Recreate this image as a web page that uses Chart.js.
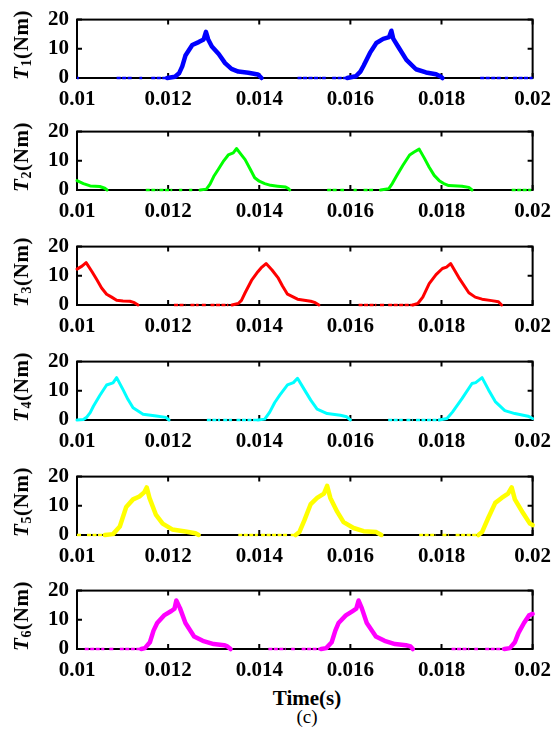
<!DOCTYPE html>
<html lang="en">
  <head>
    <meta charset="UTF-8" />
    <title>Phase torque T1-T6</title>
    <script src="https://cdn.jsdelivr.net/npm/chart.js@4"></script>
    <style>
      body,
      html {
        margin: 0;
        background: #fff;
        font-family: "Liberation Serif", "Times New Roman", serif;
      }
      #wrap {
        position: relative;
        width: 560px;
        height: 740px;
      }
      .panel {
        position: absolute;
        left: 0;
        width: 560px;
        height: 113px;
      }
      .ylab {
        position: absolute;
        left: 24px;
        transform: translate(-50%, -50%) rotate(-90deg);
        white-space: nowrap;
        font-weight: bold;
        font-size: 21px;
        line-height: 21px;
        letter-spacing: 0.6px;
        color: #000;
      }
      .ylab sub {
        font-size: 14px;
        vertical-align: -3px;
      }
      .xlab {
        position: absolute;
        left: 207px;
        width: 200px;
        text-align: center;
        color: #000;
      }
    </style>
  </head>
  <body>
    <div id="wrap">
      <div class="xlab" style="top: 686px; font-size: 21px; font-weight: bold; line-height: 24px">Time(s)</div>
      <div class="xlab" style="top: 706px; font-size: 19px; line-height: 22px">(c)</div>
    </div>
    <script>
      // axis ticks
      const xTickValues = [0.01, 0.012, 0.014, 0.016, 0.018, 0.02];
      const xTickLabels = ["0.01", "0.012", "0.014", "0.016", "0.018", "0.02"];
      const yTickValues = [0, 10, 20];
      const yTickLabels = ["0", "10", "20"];
      const phaseLabels = ["1", "2", "3", "4", "5", "6"];

      // T1 (null = break in the trace)
      const t1Time = [0.01198, 0.01215, 0.01224, 0.01231, 0.01238, 0.01253, 0.01267, 0.01278, 0.01283, 0.01288, 0.01296, 0.01311, 0.01325, 0.01339, 0.01354, 0.01376, 0.01397, 0.01405,
        0.015,
        0.01593, 0.01612, 0.01622, 0.01629, 0.01643, 0.01657, 0.01672, 0.01685, 0.0169, 0.01694, 0.01705, 0.01723, 0.01744, 0.01766, 0.01788, 0.01798, 0.01802];
      const t1Torque = [0, 0.4, 1.6, 4.0, 7.7, 11.3, 12.3, 13.2, 15.8, 13.2, 10.8, 8.2, 5.1, 3.1, 2.2, 1.8, 1.2, 0,
        null,
        0, 0.6, 2.2, 4.2, 8.6, 12.0, 13.4, 14.0, 16.2, 13.5, 10.7, 6.2, 3.0, 1.9, 1.3, 0.5, 0];
      const t1Zero = [[0.01, 0.01004], [0.01087, 0.01122], [0.01137, 0.01143], [0.01163, 0.01196], [0.01484, 0.01535], [0.01538, 0.01546], [0.0156, 0.01593], [0.01885, 0.01932], [0.01939, 0.01946], [0.01957, 0.02]];

      // T2
      const t2Time = [0.01, 0.01014, 0.01029, 0.0105, 0.01061, 0.01066,
        0.011,
        0.0127, 0.01284, 0.01292, 0.013, 0.01311, 0.01322, 0.01332, 0.01343, 0.0135, 0.0136, 0.01369, 0.0138, 0.0139, 0.014, 0.01412, 0.01425, 0.0144, 0.01458, 0.01464, 0.01467,
        0.0155,
        0.01666, 0.01684, 0.01692, 0.01701, 0.01715, 0.0173, 0.0174, 0.01751, 0.01762, 0.01773, 0.01784, 0.01795, 0.01805, 0.01816, 0.01845, 0.0186, 0.01867];
      const t2Torque = [3.2, 2.2, 1.4, 1.2, 0.6, 0,
        null,
        0, 0.3, 2.0, 4.6, 7.3, 10.0, 12.0, 12.7, 14.2, 12.2, 10.4, 7.2, 4.2, 3.0, 2.2, 1.6, 1.3, 1.0, 0.5, 0,
        null,
        0, 0.4, 2.2, 4.7, 8.4, 12.0, 13.0, 14.0, 11.0, 7.8, 5.0, 3.2, 2.2, 1.5, 1.3, 0.9, 0];
      const t2Zero = [[0.01151, 0.01177], [0.01181, 0.01209], [0.01224, 0.01231], [0.01246, 0.01253], [0.01549, 0.0157], [0.01578, 0.01586], [0.01607, 0.01614], [0.01629, 0.0165], [0.01954, 0.01997]];

      // T3
      const t3Time = [0.01, 0.01011, 0.0102, 0.01033, 0.01043, 0.01054, 0.01065, 0.01076, 0.01087, 0.01101, 0.01116, 0.01126, 0.01134,
        0.012,
        0.0134, 0.01354, 0.01361, 0.01369, 0.01383, 0.01397, 0.01404, 0.01415, 0.01428, 0.01441, 0.01451, 0.01462, 0.01484, 0.01513, 0.01523, 0.01531,
        0.016,
        0.01737, 0.01748, 0.01759, 0.01773, 0.01788, 0.01802, 0.01811, 0.0182, 0.01838, 0.0186, 0.01874, 0.01889, 0.0191, 0.01925, 0.01932];
      const t3Torque = [12.3, 13.3, 14.5, 11.4, 8.8, 5.8, 3.7, 2.7, 1.6, 1.4, 1.3, 0.8, 0,
        null,
        0, 0.5, 1.6, 4.2, 8.4, 11.4, 12.7, 14.2, 12.0, 9.4, 6.5, 3.7, 2.0, 1.3, 0.8, 0,
        null,
        0, 0.5, 2.7, 7.3, 10.4, 12.5, 13.0, 14.2, 9.4, 4.2, 2.7, 2.0, 1.5, 1.1, 0];
      const t3Zero = [[0.01213, 0.01238], [0.01249, 0.01267], [0.01274, 0.01285], [0.01293, 0.01332], [0.01618, 0.01657], [0.01665, 0.01675], [0.01683, 0.01737]];

      // T4
      const t4Time = [0.01, 0.01014, 0.01021, 0.01029, 0.01036, 0.0105, 0.01065, 0.01079, 0.01087, 0.01101, 0.01112, 0.01123, 0.01145, 0.01174, 0.01195, 0.01202,
        0.0125,
        0.01397, 0.01412, 0.01423, 0.01434, 0.01445, 0.01462, 0.01475, 0.01484, 0.01499, 0.01513, 0.01527, 0.01549, 0.01578, 0.01592, 0.016,
        0.0165,
        0.01795, 0.01812, 0.01824, 0.01845, 0.01867, 0.01875, 0.01889, 0.01903, 0.01918, 0.01939, 0.01961, 0.0199, 0.02];
      const t4Torque = [0, 0.2, 0.9, 2.5, 4.7, 8.4, 12.0, 12.7, 14.5, 10.4, 7.0, 4.2, 2.0, 1.4, 0.9, 0,
        null,
        0, 0.3, 2.7, 6.0, 8.5, 12.0, 12.8, 14.3, 10.4, 6.8, 3.7, 2.2, 1.6, 1.1, 0,
        null,
        0, 0.5, 2.7, 7.3, 12.5, 12.8, 14.5, 10.4, 6.3, 3.2, 2.2, 1.3, 0.5];
      const t4Zero = [[0.01285, 0.01314], [0.01321, 0.0134], [0.0135, 0.01397], [0.01683, 0.01715], [0.01723, 0.01737], [0.01744, 0.01795]];

      // T5
      const t5Time = [0.01061, 0.01079, 0.01094, 0.01108, 0.01123, 0.01137, 0.01148, 0.01153, 0.01159, 0.01173, 0.01188, 0.01209, 0.01238, 0.0126, 0.01267,
        0.013,
        0.0148, 0.01488, 0.01499, 0.01513, 0.01527, 0.01542, 0.01549, 0.01556, 0.01571, 0.01585, 0.01607, 0.01629, 0.01657, 0.01668,
        0.017,
        0.01881, 0.01889, 0.01903, 0.01918, 0.01932, 0.01946, 0.01954, 0.01961, 0.01979, 0.01994, 0.02];
      const t5Torque = [0, 0.3, 2.9, 9.6, 12.2, 13.2, 14.7, 16.3, 12.7, 7.0, 3.9, 1.9, 1.2, 0.6, 0,
        null,
        0, 1.0, 5.0, 10.6, 12.7, 14.2, 16.8, 12.7, 8.0, 4.4, 2.4, 1.3, 1.0, 0,
        null,
        0, 1.0, 6.0, 11.0, 12.7, 14.2, 16.3, 12.2, 7.5, 3.9, 3.4];
      const t5Zero = [[0.01, 0.01011], [0.01022, 0.01061], [0.01354, 0.01397], [0.01404, 0.01462], [0.01469, 0.0148], [0.01751, 0.01788], [0.01802, 0.01816], [0.01831, 0.01881]];

      // T6
      const t6Time = [0.01141, 0.01149, 0.0116, 0.01168, 0.01176, 0.01191, 0.01207, 0.01214, 0.01218, 0.01226, 0.01238, 0.01257, 0.01276, 0.013, 0.01323, 0.0133, 0.01337,
        0.014,
        0.01536, 0.01547, 0.01559, 0.01567, 0.01574, 0.0159, 0.01605, 0.01613, 0.01618, 0.01625, 0.01636, 0.01656, 0.01675, 0.01698, 0.01722, 0.01732, 0.01737,
        0.018,
        0.01938, 0.0195, 0.01961, 0.01969, 0.01981, 0.01992, 0.02];
      const t6Torque = [0, 0.3, 2.3, 6.3, 8.9, 11.5, 13.0, 13.8, 16.6, 14.0, 8.9, 4.3, 2.8, 1.7, 1.3, 0.9, 0,
        null,
        0, 0.3, 2.3, 6.3, 8.9, 11.5, 13.0, 13.8, 16.6, 14.0, 8.9, 4.3, 2.8, 1.7, 1.3, 0.9, 0,
        null,
        0, 0.3, 2.3, 5.5, 8.9, 11.5, 12.0];
      const t6Zero = [[0.01017, 0.0106], [0.01071, 0.01083], [0.01094, 0.01141], [0.0142, 0.01458], [0.0147, 0.01478], [0.01493, 0.01536], [0.01822, 0.01861], [0.01872, 0.0188], [0.01896, 0.01938]];

      const panels = [
        { time: t1Time, torque: t1Torque, zero: t1Zero, color: "#0000ff", width: 4.5, top: 13 },
        { time: t2Time, torque: t2Torque, zero: t2Zero, color: "#00ff00", width: 3, top: 125 },
        { time: t3Time, torque: t3Torque, zero: t3Zero, color: "#ff0000", width: 3, top: 240 },
        { time: t4Time, torque: t4Torque, zero: t4Zero, color: "#00ffff", width: 3, top: 355 },
        { time: t5Time, torque: t5Torque, zero: t5Zero, color: "#ffff00", width: 4.5, top: 470 },
        { time: t6Time, torque: t6Torque, zero: t6Zero, color: "#ff00ff", width: 4.5, top: 584 },
      ];

      const tickFont = { family: "'Liberation Serif', 'Times New Roman', serif", size: 21, weight: "bold" };
      const PAD_TOP = 14; // room for the "20" label above the plot box

      // box with inward ticks on all four sides
      const boxPlugin = {
        id: "box",
        beforeDatasetsDraw(chart) {
          const { ctx, chartArea: a, scales } = chart;
          ctx.save();
          ctx.strokeStyle = "#000";
          ctx.lineWidth = 2;
          ctx.strokeRect(a.left, a.top, a.right - a.left, a.bottom - a.top);
          ctx.beginPath();
          xTickValues.forEach((v) => {
            const px = scales.x.getPixelForValue(v);
            ctx.moveTo(px, a.bottom);
            ctx.lineTo(px, a.bottom - 5);
            ctx.moveTo(px, a.top);
            ctx.lineTo(px, a.top + 5);
          });
          yTickValues.forEach((v) => {
            const py = scales.y.getPixelForValue(v);
            ctx.moveTo(a.left, py);
            ctx.lineTo(a.left + 5, py);
            ctx.moveTo(a.right, py);
            ctx.lineTo(a.right - 5, py);
          });
          ctx.stroke();
          ctx.restore();
        },
      };

      const wrap = document.getElementById("wrap");

      panels.forEach((p, i) => {
        const div = document.createElement("div");
        div.className = "panel";
        div.style.top = p.top - PAD_TOP + "px";
        const canvas = document.createElement("canvas");
        div.appendChild(canvas);
        wrap.appendChild(div);

        const lab = document.createElement("div");
        lab.className = "ylab";
        lab.style.top = p.top + 32 + "px";
        lab.innerHTML = "<i>T</i><sub>" + phaseLabels[i] + "</sub>(Nm)";
        wrap.appendChild(lab);

        new Chart(canvas, {
          type: "line",
          data: {
            datasets: [
              {
                data: p.time.map((t, k) => ({ x: t, y: p.torque[k] })),
                borderColor: p.color,
                borderWidth: p.width,
                borderJoinStyle: "round",
                borderCapStyle: "round",
                pointRadius: 0,
                tension: 0,
                spanGaps: false,
                clip: 6,
              },
              {
                data: p.zero.flatMap(([a, b]) => [
                  { x: a, y: 0 },
                  { x: b, y: 0 },
                  { x: b, y: null },
                ]),
                borderColor: p.color,
                borderWidth: 2.5,
                borderDash: [4, 1.5],
                pointRadius: 0,
                spanGaps: false,
                clip: 6,
              },
            ],
          },
          options: {
            responsive: true,
            maintainAspectRatio: false,
            animation: false,
            events: [],
            layout: { padding: { top: PAD_TOP, right: 22, left: 0, bottom: 0 } },
            plugins: { legend: { display: false }, tooltip: { enabled: false } },
            scales: {
              x: {
                type: "linear",
                min: 0.01,
                max: 0.02,
                grid: { display: false, drawTicks: false },
                border: { display: false },
                ticks: {
                  font: tickFont,
                  color: "#000",
                  padding: 9,
                  maxRotation: 0,
                  autoSkip: false,
                  callback: (v, k) => xTickLabels[k],
                },
                afterBuildTicks: (s) => {
                  s.ticks = xTickValues.map((v) => ({ value: v }));
                },
                afterFit: (s) => {
                  s.height = 34;
                },
              },
              y: {
                min: 0,
                max: 20,
                grid: { display: false, drawTicks: false },
                border: { display: false },
                ticks: {
                  font: tickFont,
                  color: "#000",
                  padding: 8,
                  callback: (v, k) => yTickLabels[k],
                },
                afterBuildTicks: (s) => {
                  s.ticks = yTickValues.map((v) => ({ value: v }));
                },
                afterFit: (s) => {
                  s.width = 77;
                },
              },
            },
          },
          plugins: [boxPlugin],
        });
      });
    </script>
  </body>
</html>
